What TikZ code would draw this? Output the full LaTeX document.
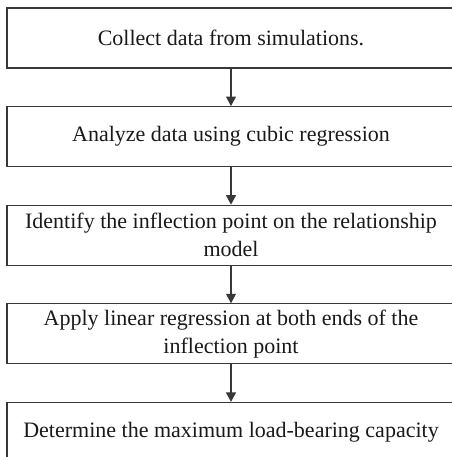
\documentclass[tikz,border=0pt]{standalone}
\usepackage{fontspec}
\setmainfont{Liberation Serif}
\usetikzlibrary{positioning,arrows.meta}

\definecolor{cLine}{gray}{0.22}
\definecolor{cText}{gray}{0.10}

\tikzset{
  stepbox/.style={draw=cLine, line width=1.1pt, minimum width=448pt, minimum height=60pt,
    inner sep=2pt, align=center, text=cText, font=\fontsize{22}{28}\selectfont},
  flow/.style={draw=cLine, line width=1.1pt, -{Triangle[length=9.5pt,width=10pt]}}
}

\begin{document}
\begin{tikzpicture}[x=1pt, y=1pt, node distance=37.5pt]

\useasboundingbox (0,0) rectangle (451,-457);

% ── Steps ──
\node[stepbox] (collect) at (231,-38) {Collect data from simulations.};
\node[stepbox, below=of collect] (analyze) {Analyze data using cubic regression};
\node[stepbox, below=of analyze] (inflect) {Identify the inflection point on the relationship\\model};
\node[stepbox, below=of inflect] (linreg) {Apply linear regression at both ends of the\\inflection point};
\node[stepbox, below=of linreg] (capacity) {Determine the maximum load-bearing capacity};

% ── Arrows ──
\draw[flow] (collect) -- (analyze);
\draw[flow] (analyze) -- (inflect);
\draw[flow] (inflect) -- (linreg);
\draw[flow] (linreg) -- (capacity);

\end{tikzpicture}
\end{document}
